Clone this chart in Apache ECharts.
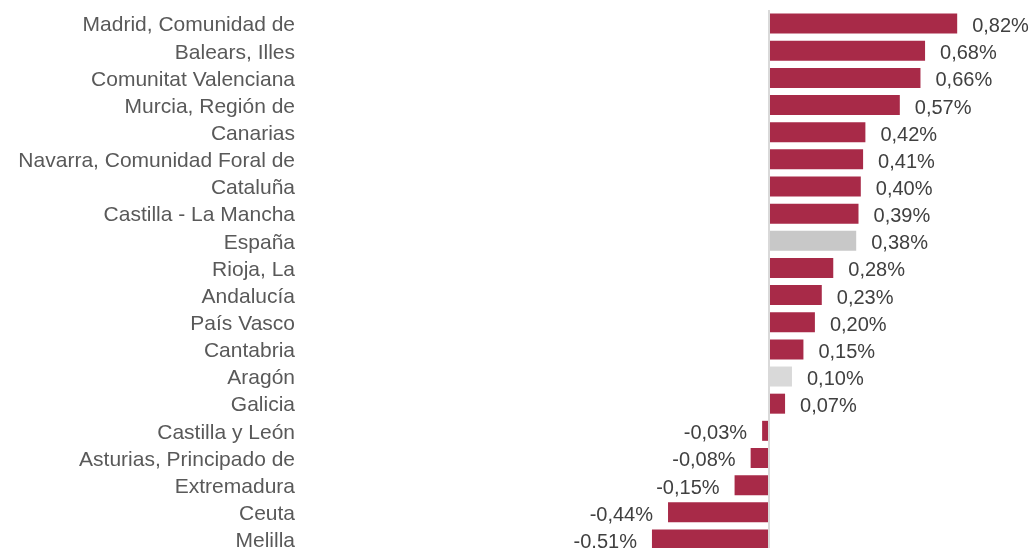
<!DOCTYPE html>
<html>
<head>
<meta charset="utf-8">
<script src="https://cdn.jsdelivr.net/npm/echarts@6/dist/echarts.min.js"></script>
<style>
  html, body { margin: 0; padding: 0; background: #fff; overflow: hidden; }
  #chart { width: 1033px; height: 560px; }
</style>
</head>
<body>
<div id="chart"></div>
<script>
// comunidades, de mayor a menor
var regiones = ['Madrid, Comunidad de', 'Balears, Illes', 'Comunitat Valenciana', 'Murcia, Región de',
  'Canarias', 'Navarra, Comunidad Foral de', 'Cataluña', 'Castilla - La Mancha', 'España',
  'Rioja, La', 'Andalucía', 'País Vasco', 'Cantabria', 'Aragón', 'Galicia', 'Castilla y León',
  'Asturias, Principado de', 'Extremadura', 'Ceuta', 'Melilla'];
var valores = [0.82, 0.68, 0.66, 0.57, 0.42, 0.41, 0.40, 0.39, 0.38, 0.28, 0.23, 0.20, 0.15, 0.10,
  0.07, -0.03, -0.08, -0.15, -0.44, -0.51];
// barras en gris
var grises = { 'España': '#c8c8c8', 'Aragón': '#d9d9d9' };

var rojo = '#a82a48';

var datos = valores.map(function (v, i) {
  var color = grises[regiones[i]] || rojo;
  return {
    value: v,
    itemStyle: { color: color },
    label: { position: v < 0 ? 'left' : 'right' }
  };
});

var chart = echarts.init(document.getElementById('chart'));
chart.setOption({
  animation: false,
  grid: { left: 310, top: 10, height: 543, right: 34.5 },
  xAxis: {
    type: 'value',
    min: -2,
    max: 1,
    show: false
  },
  yAxis: {
    type: 'category',
    data: regiones,
    inverse: true,
    axisLine: { show: false },
    axisTick: { show: false },
    axisLabel: {
      interval: 0,
      margin: 15,
      formatter: function (v) { return '{a|' + v + '}'; },
      rich: {
        a: {
          padding: [4, 0, 0, 0],
          color: '#595959',
          fontFamily: 'Liberation Sans, Arial, sans-serif',
          fontSize: 21
        }
      }
    }
  },
  series: [{
    type: 'bar',
    data: datos,
    barWidth: 20,
    label: {
      show: true,
      distance: 15,
      offset: [0, 3],
      color: '#404040',
      fontFamily: 'Liberation Sans, Arial, sans-serif',
      fontSize: 20,
      formatter: function (p) {
        return p.value.toFixed(2).replace('.', ',') + '%';
      }
    },
    markLine: {
      silent: true,
      symbol: 'none',
      label: { show: false },
      lineStyle: { color: '#d9d9d9', width: 2, type: 'solid' },
      data: [{ xAxis: 0 }]
    }
  }]
});
</script>
</body>
</html>
